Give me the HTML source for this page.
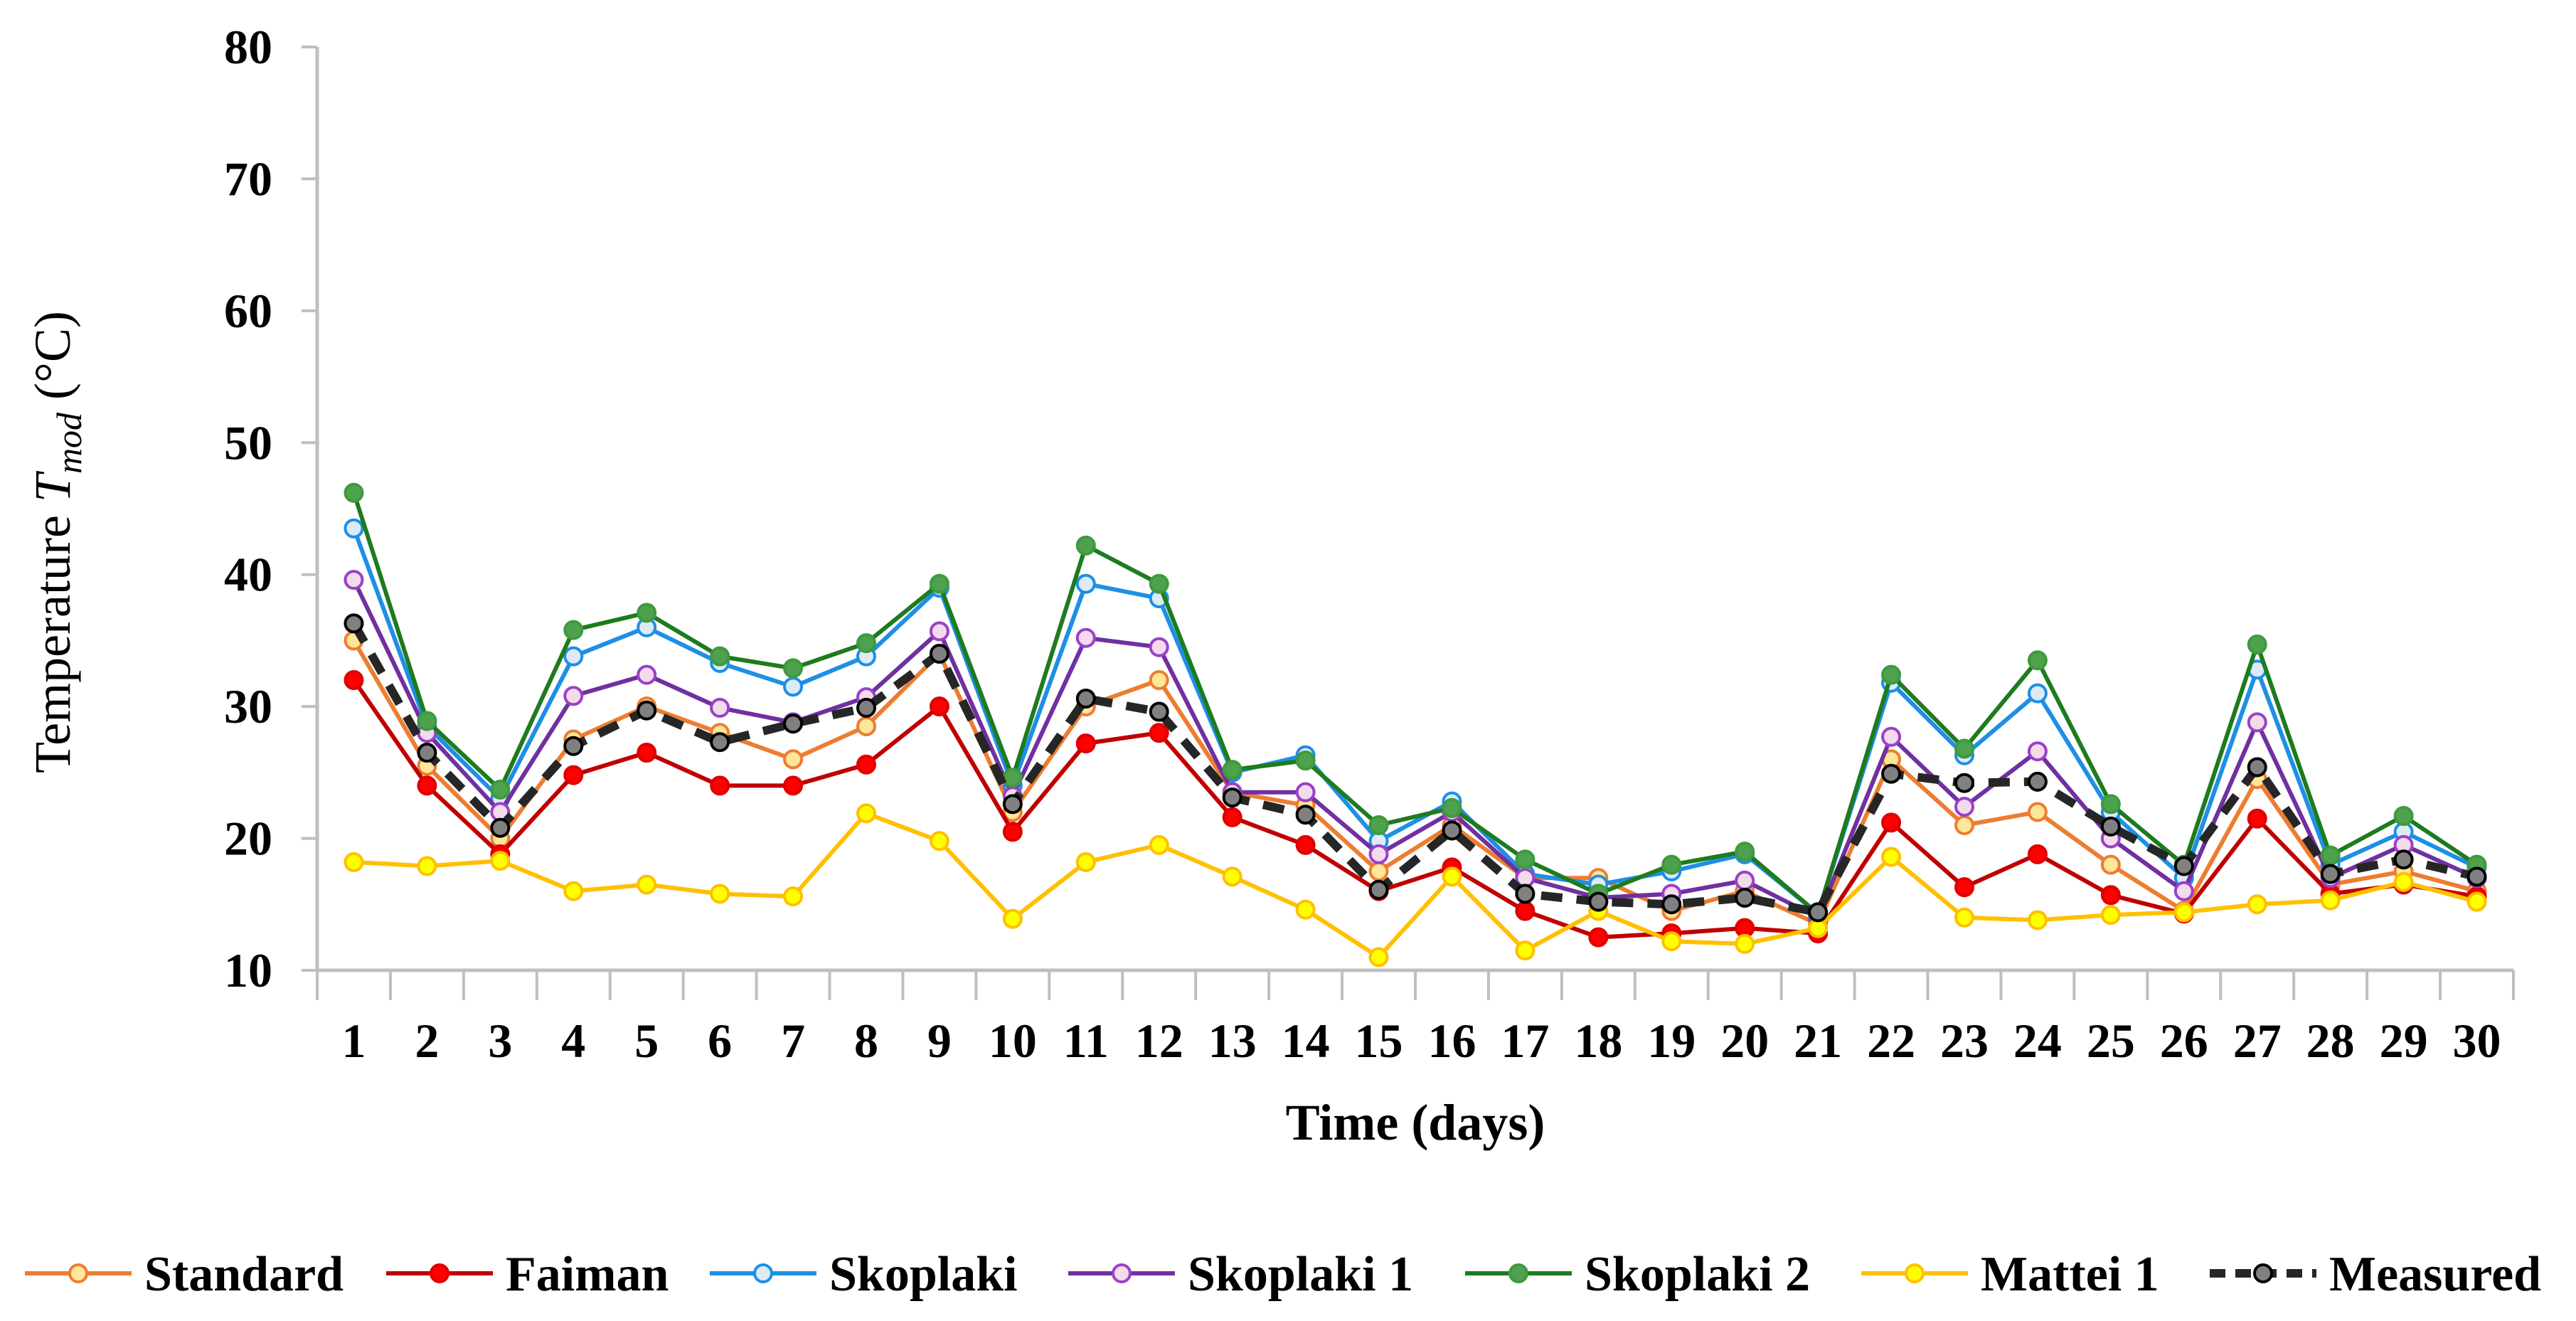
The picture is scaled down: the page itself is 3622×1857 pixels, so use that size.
<!DOCTYPE html>
<html><head><meta charset="utf-8"><style>
html,body{margin:0;padding:0;background:#fff;}
svg{display:block;}
text{font-family:"Liberation Serif",serif;font-weight:bold;fill:#000;}
</style></head><body>
<svg id="chart" width="3622" height="1857" viewBox="0 0 3622 1857" xmlns="http://www.w3.org/2000/svg">
<g id="axes"></g>
<g id="series"></g>
<text transform="translate(98,762) rotate(-90)" text-anchor="middle" font-size="72" style="font-weight:normal">Temperature <tspan font-style="italic">T</tspan><tspan font-style="italic" font-size="50" dy="16">mod</tspan><tspan dy="-16"> (°C)</tspan></text>
<text x="1990" y="1602" text-anchor="middle" font-size="72">Time (days)</text>
<g id="legend"></g>
</svg>
<script>
const days = [1,2,3,4,5,6,7,8,9,10,11,12,13,14,15,16,17,18,19,20,21,22,23,24,25,26,27,28,29,30];
const yTicks = [10,20,30,40,50,60,70,80];
const standard = [35,25.5,20,27.5,30,28,26,28.5,34,22,30,32,23.5,22.5,17.5,21,17,17,14.5,16,13.5,26,21,22,18,14.5,24.5,16.5,17.5,16];
const faiman = [32,24,18.8,24.8,26.5,24,24,25.6,30,20.5,27.2,28,21.6,19.5,16,17.8,14.5,12.5,12.8,13.2,12.8,21.2,16.3,18.8,15.7,14.3,21.5,15.8,16.5,15.6];
const skoplaki = [43.5,28.5,23,33.8,36,33.3,31.5,33.8,39,24,39.3,38.2,25,26.3,19.8,22.8,17.3,16.5,17.5,18.8,14.3,31.8,26.3,31,22,17,32.8,18,20.5,17.8];
const skoplaki1 = [39.6,28,22,30.8,32.4,29.9,28.8,30.7,35.7,23.2,35.2,34.5,23.5,23.5,18.8,22,17,15.5,15.8,16.8,14,27.7,22.4,26.6,20,16,28.8,17,19.5,17];
const skoplaki2 = [46.2,28.9,23.7,35.8,37.1,33.8,32.9,34.8,39.3,24.6,42.2,39.3,25.2,25.9,21,22.3,18.4,15.8,18,19,14.3,32.4,26.8,33.5,22.6,18,34.7,18.7,21.7,18];
const mattei1 = [18.2,17.9,18.3,16,16.5,15.8,15.6,21.9,19.8,13.9,18.2,19.5,17.1,14.6,11,17.1,11.5,14.5,12.2,12,13.2,18.6,14,13.8,14.2,14.4,15,15.3,16.7,15.2];
const measured = [36.3,26.5,20.8,27,29.7,27.3,28.7,29.9,34,22.6,30.6,29.6,23.1,21.8,16.1,20.6,15.8,15.2,15,15.5,14.4,24.9,24.2,24.3,20.9,17.9,25.4,17.3,18.4,17.1];
const seriesNames = ["Standard","Faiman","Skoplaki","Skoplaki 1","Skoplaki 2","Mattei 1","Measured"];

const NS="http://www.w3.org/2000/svg";
const X0=446,X1=3534,Y0=1364,Y1=66,VMIN=10,VMAX=80;
const band=(X1-X0)/days.length;
const xs=i=>X0+band*(i+0.5);
const ys=v=>Y0-(v-VMIN)/(VMAX-VMIN)*(Y0-Y1);
function mk(tag,attrs,parent){const e=document.createElementNS(NS,tag);for(const k in attrs)e.setAttribute(k,attrs[k]);parent.appendChild(e);return e;}

const axes=document.getElementById('axes');
let ya=mk('line',{x1:X0,y1:Y1,x2:X0,y2:Y0,stroke:'#BFBFBF','stroke-width':5},axes);


let xa=mk('line',{x1:X0,y1:Y0,x2:X1,y2:Y0,stroke:'#BFBFBF','stroke-width':5},axes);


yTicks.forEach(t=>{
  const tk=mk('line',{x1:X0-22,y1:ys(t),x2:X0,y2:ys(t),stroke:'#BFBFBF','stroke-width':4},axes);
  
  
  const tl=mk('text',{x:383,y:ys(t)+23,'text-anchor':'end','font-size':68},axes);
  tl.textContent=t;
  
  
});
for(let i=0;i<=days.length;i++){
  const x=X0+band*i;
  const tk=mk('line',{x1:x,y1:Y0,x2:x,y2:Y0+42,stroke:'#BFBFBF','stroke-width':4},axes);
  
  
}
days.forEach((d,i)=>{
  const tl=mk('text',{x:xs(i),y:1486,'text-anchor':'middle','font-size':68},axes);
  tl.textContent=d;
  
  
});

const styles=[
 {data:standard,line:'#ED7D31',fill:'#FFE699',ms:'#ED7D31',w:6,dash:null},
 {data:faiman,line:'#C00000',fill:'#FF0000',ms:'#E00000',w:6,dash:null},
 {data:skoplaki,line:'#1E8FE6',fill:'#DDEBF7',ms:'#1E8FE6',w:6,dash:null},
 {data:skoplaki1,line:'#7030A0',fill:'#F2DCEB',ms:'#9B40C8',w:6,dash:null},
 {data:skoplaki2,line:'#1E7B1E',fill:'#4EA24E',ms:'#3F9A3F',w:6,dash:null},
 {data:mattei1,line:'#FFC000',fill:'#FFFF00',ms:'#FFC000',w:6,dash:null},
 {data:measured,line:'#262626',fill:'#808080',ms:'#000',w:12,dash:'30,20'}
];
const sg=document.getElementById('series');
styles.forEach((s,k)=>{
  const g=mk('g',{},sg);
  
  
  const pts=s.data.map((v,i)=>xs(i).toFixed(1)+','+ys(v).toFixed(1)).join(' ');
  const pl=mk('polyline',{points:pts,fill:'none',stroke:s.line,'stroke-width':s.w,'stroke-linejoin':'round'},g);
  if(s.dash)pl.setAttribute('stroke-dasharray',s.dash);
  
  
  s.data.forEach((v,i)=>{
    const c=mk('circle',{cx:xs(i),cy:ys(v),r:12,fill:s.fill,stroke:s.ms,'stroke-width':4},g);
    
    
  });
});

const lg=document.getElementById('legend');
const lx=[35,543,998,1502,2060,2617,3107];
const ly=1790;
styles.forEach((s,k)=>{
  const g=mk('g',{},lg);
  
  
  const l=mk('line',{x1:lx[k],y1:ly,x2:lx[k]+150,y2:ly,stroke:s.line,'stroke-width':s.w},g);
  if(s.dash)l.setAttribute('stroke-dasharray','22,14');
  mk('circle',{cx:lx[k]+75,cy:ly,r:12,fill:s.fill,stroke:s.ms,'stroke-width':4},g);
  const t=mk('text',{x:lx[k]+168,y:ly+24,'font-size':70},g);
  t.textContent=seriesNames[k];
});
</script>
</body></html>
